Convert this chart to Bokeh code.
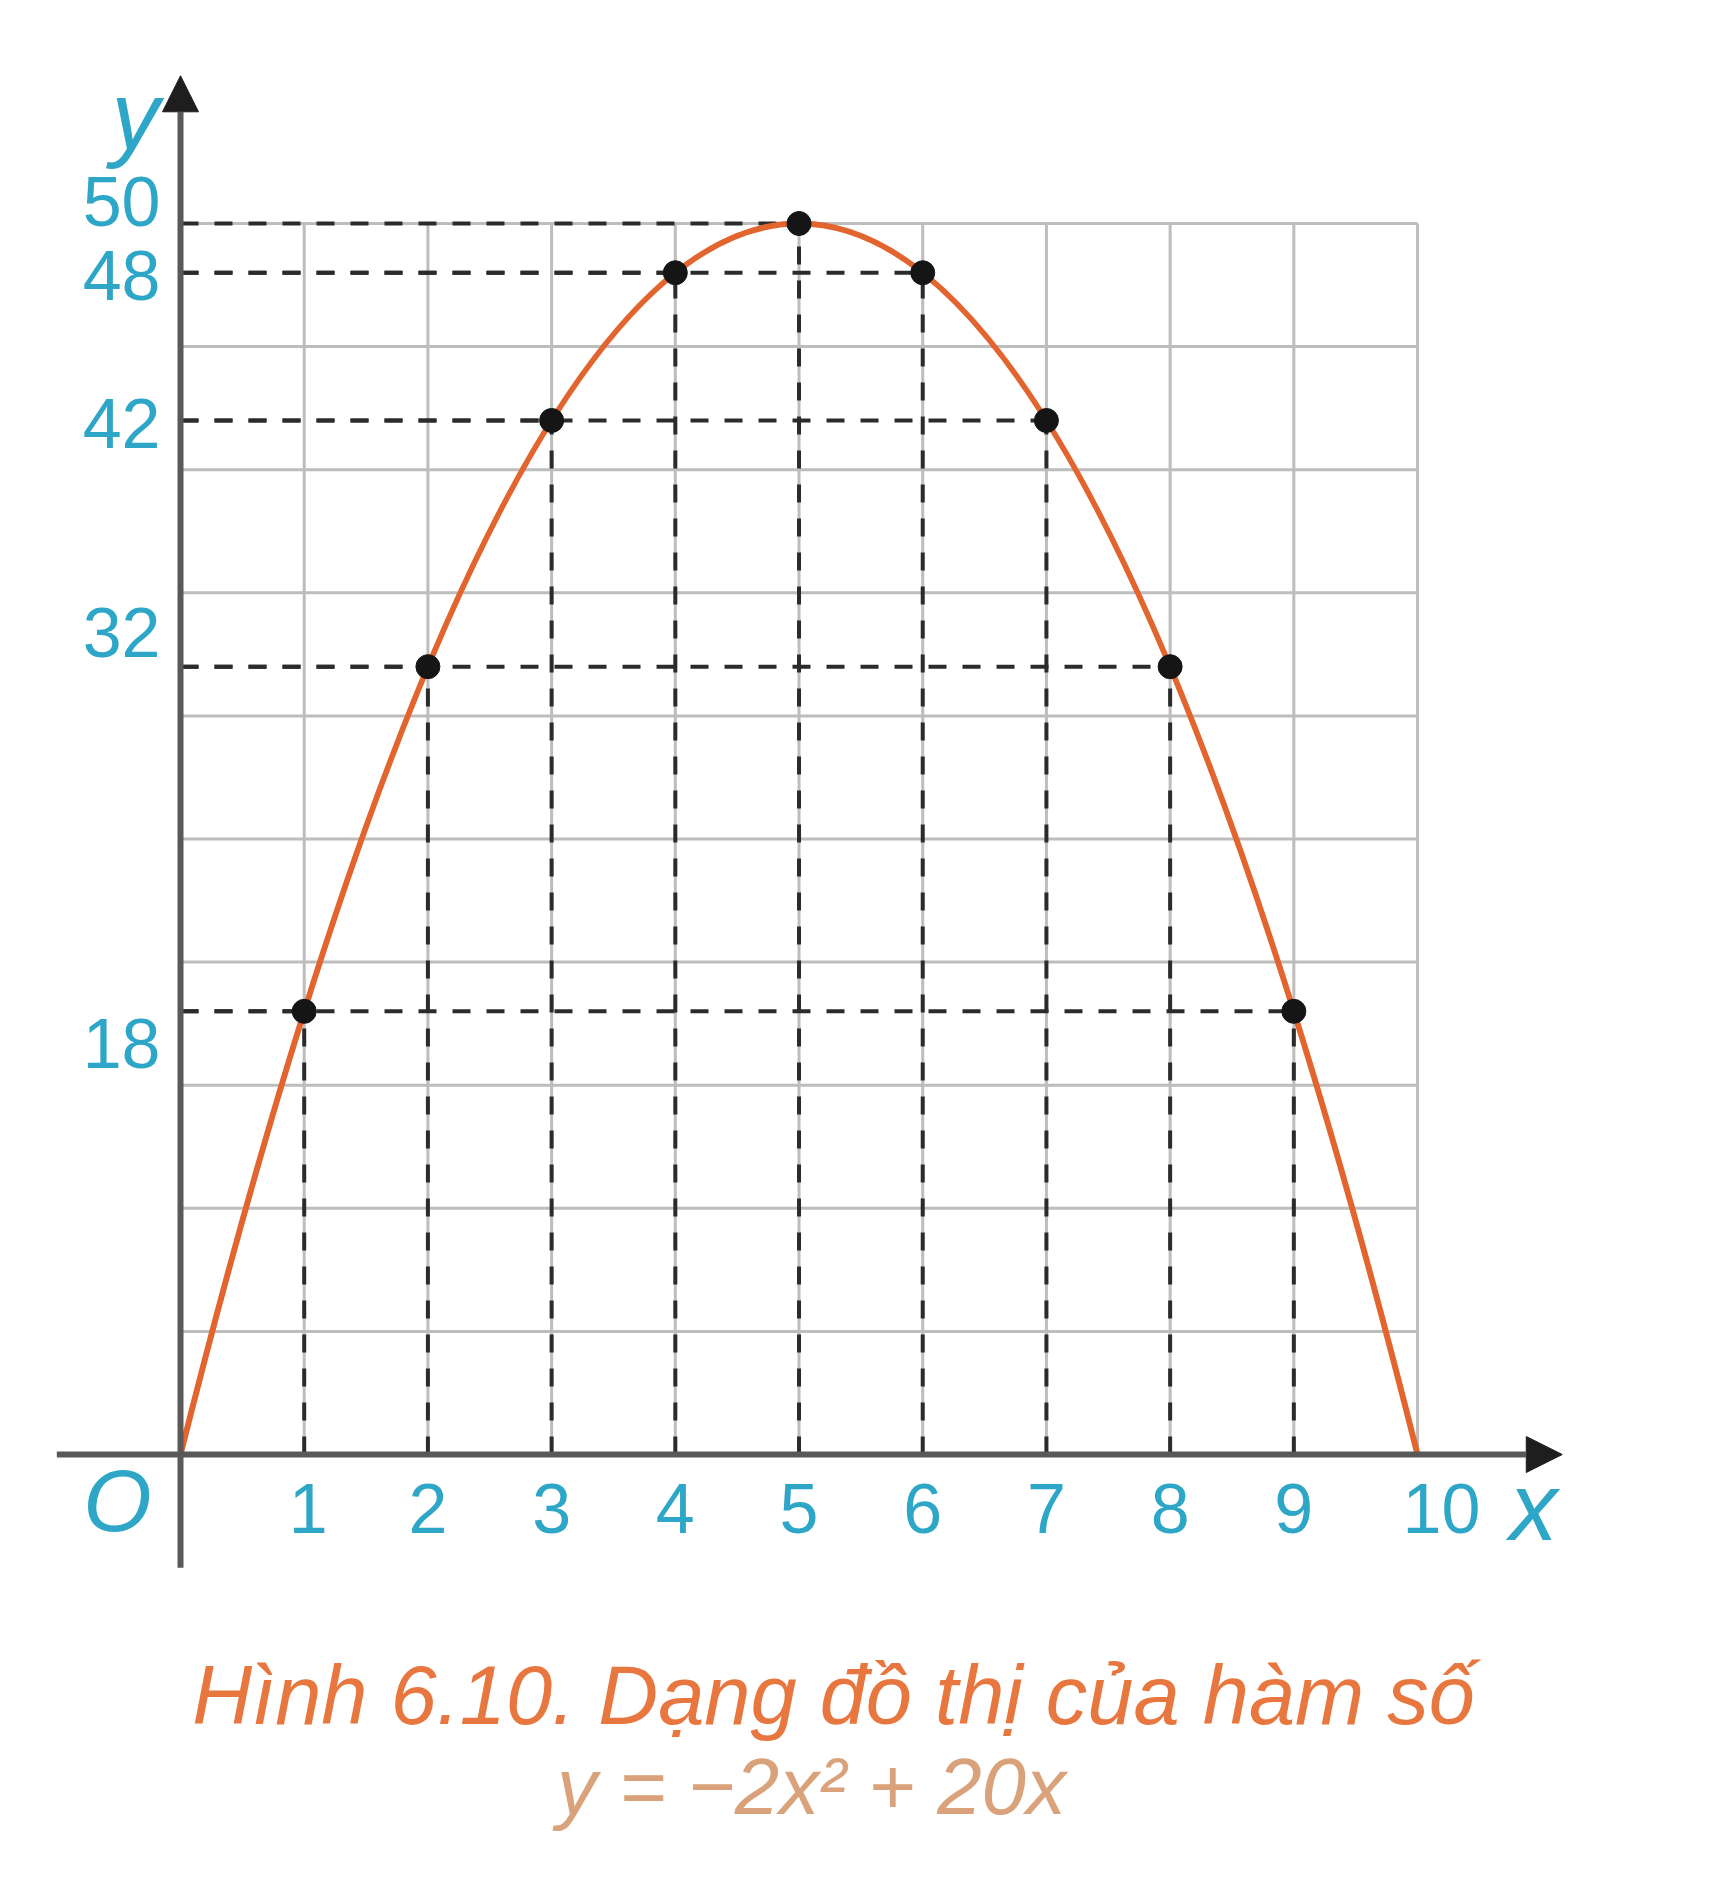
from bokeh.plotting import figure
from bokeh.models import Range1d, Arrow, NormalHead
from bokeh.core.properties import value
from bokeh.embed import file_html
from bokeh.resources import INLINE

# sample points of y = -2x^2 + 20x
x_vals = [1, 2, 3, 4, 5, 6, 7, 8, 9]
y_vals = [18, 32, 42, 48, 50, 48, 42, 32, 18]

# square grid behind the graph
grid_x = [1, 2, 3, 4, 5, 6, 7, 8, 9, 10]
grid_y = [5, 10, 15, 20, 25, 30, 35, 40, 45, 50]

x_ticks = [1, 2, 3, 4, 5, 6, 7, 8, 9, 10]
x_tick_labels = ["1", "2", "3", "4", "5", "6", "7", "8", "9", "10"]
y_ticks = [18, 32, 42, 48, 50]
y_tick_labels = ["18", "32", "42", "48", "50"]

# the parabola as one quadratic Bezier: both ends on the x axis,
# control point where the end tangents meet
curve_x = [0, 10]
curve_y = [0, 0]
curve_ctrl = [5, 100]

caption = "Hình 6.10. Dạng đồ thị của hàm số"
formula = "y = −2x² + 20x"

# layout: screen pixels per data unit
PX_X = 123.7
PX_Y = 24.62

TEAL = "#2ea6c7"
FONT = value("Liberation Sans")

p = figure(width=1704, height=1884,
           x_range=Range1d(-1.4552, 12.3198), y_range=Range1d(-17.465, 59.058),
           x_axis_type=None, y_axis_type=None,
           output_backend="svg", toolbar_location=None, min_border=0)
p.grid.visible = False
p.outline_line_color = None

# grid
p.segment(x0=grid_x, y0=[0] * len(grid_x), x1=grid_x, y1=[50] * len(grid_x),
          line_color="#bdbdbd", line_width=3)
p.segment(x0=[0] * len(grid_y), y0=grid_y, x1=[10] * len(grid_y), y1=grid_y,
          line_color="#bdbdbd", line_width=3)

# dashed guides from both axes to each point (start on the axis so that
# overlapping guides keep the same dash phase)
p.segment(x0=[0] * len(x_vals), y0=y_vals, x1=x_vals, y1=y_vals,
          line_color="#2b2b2b", line_width=4, line_dash="18 16")
p.segment(x0=x_vals, y0=[0] * len(x_vals), x1=x_vals, y1=y_vals,
          line_color="#2b2b2b", line_width=4, line_dash="18 16")

# axes with arrow heads
for xs, ys, xe, ye in [(-1.0, 0, 11.17, 0), (0, -4.6, 0, 56.0)]:
    p.add_layout(Arrow(end=NormalHead(size=36, fill_color="#1e1e1e", line_color="#1e1e1e"),
                       x_start=xs, y_start=ys, x_end=xe, y_end=ye,
                       line_color="#595959", line_width=6))

p.quadratic(x0=curve_x[0], y0=curve_y[0], x1=curve_x[1], y1=curve_y[1],
            cx=curve_ctrl[0], cy=curve_ctrl[1], line_color="#e2652f", line_width=6)

p.scatter(x_vals, y_vals, size=24, color="#151515")

# tick labels
y_shift = [32, -34, 3, 3, -22]
p.text(x=[-20 / PX_X] * len(y_ticks), y=y_ticks, text=y_tick_labels, y_offset=y_shift,
       text_align="right", text_baseline="middle", text_font=FONT,
       text_font_size="70px", text_color=TEAL)

x_shift = [4, 0, 0, 0, 0, 0, 0, 0, 0, 24]
p.text(x=x_ticks, y=[0] * len(x_ticks), text=x_tick_labels, x_offset=x_shift, y_offset=54,
       text_align="center", text_baseline="middle", text_font=FONT,
       text_font_size="70px", text_color=TEAL)

p.text(x=[-63 / PX_X], y=[0], text=["O"], y_offset=46, text_align="center",
       text_baseline="middle", text_font=FONT, text_font_style="italic",
       text_font_size="88px", text_color=TEAL)
p.text(x=[1353 / PX_X], y=[0], text=["x"], y_offset=52, text_align="center",
       text_baseline="middle", text_font=FONT, text_font_style="italic",
       text_font_size="96px", text_color=TEAL)
p.text(x=[-45 / PX_X], y=[1339 / PX_Y], text=["y"], text_align="center",
       text_baseline="alphabetic", text_font=FONT, text_font_style="italic",
       text_font_size="96px", text_color=TEAL)

# caption
p.text(x=[653 / PX_X], y=[-241 / PX_Y], text=[caption], text_align="center",
       text_baseline="alphabetic", text_font=FONT, text_font_style="italic",
       text_font_size="83px", text_color="#e8773f")
p.text(x=[631 / PX_X], y=[-332 / PX_Y], text=[formula], text_align="center",
       text_baseline="alphabetic", text_font=FONT, text_font_style="italic",
       text_font_size="80px", text_color="#d9a27a")

open("out.html", "w").write(file_html(p, INLINE))
